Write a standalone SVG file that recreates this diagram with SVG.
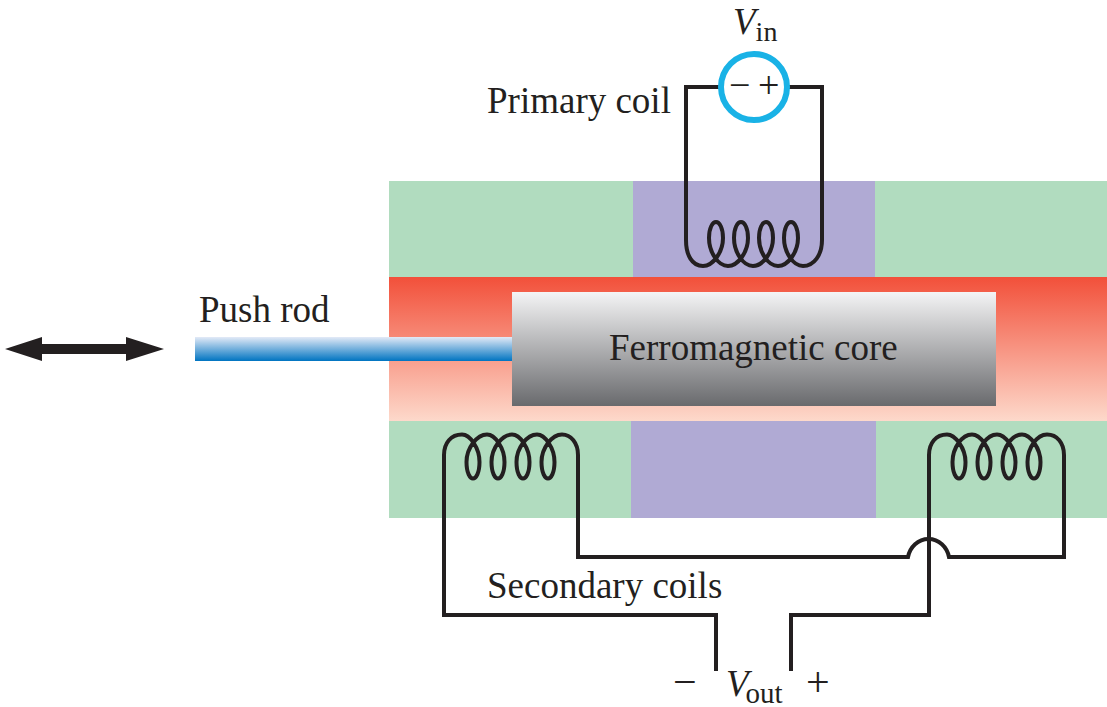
<svg xmlns="http://www.w3.org/2000/svg" width="1107" height="707" viewBox="0 0 1107 707">
<style>
.t{font-family:"Liberation Serif","Times New Roman",serif;font-size:37px;fill:#231f20}
.i{font-style:italic}
.s{font-size:29px}
.b{font-size:42px}
.m{font-size:38px}
.w{fill:none;stroke:#231f20;stroke-width:4;stroke-linejoin:miter}
.g{fill:#b1dcbf}
.p{fill:#b0aad4}
</style>
<defs>
<linearGradient id="red" x1="0" y1="0" x2="0" y2="1"><stop offset="0" stop-color="#f2503a"/><stop offset="1" stop-color="#fdd9cb"/></linearGradient>
<linearGradient id="core" x1="0" y1="0" x2="0" y2="1"><stop offset="0" stop-color="#f4f4f5"/><stop offset="1" stop-color="#696a6d"/></linearGradient>
<linearGradient id="rod" x1="0" y1="0" x2="0" y2="1"><stop offset="0" stop-color="#e3eaf7"/><stop offset="1" stop-color="#0074c1"/></linearGradient>
</defs>
<rect width="1107" height="707" fill="#fff"/>
<g id="housing">
<rect class="g" x="389" y="181" width="244" height="96"/>
<rect class="p" x="633" y="181" width="242" height="96"/>
<rect class="g" x="875" y="181" width="232" height="96"/>
<rect x="389" y="277" width="718" height="144" fill="url(#red)"/>
<rect class="g" x="389" y="421" width="242" height="97"/>
<rect class="p" x="631" y="421" width="245" height="97"/>
<rect class="g" x="876" y="421" width="231" height="97"/>
</g>
<g id="push-rod"><rect x="195" y="337" width="318" height="24" fill="url(#rod)"/><text class="t" x="199" y="322">Push rod</text></g>
<g id="core-node"><rect x="512" y="292" width="484" height="114" fill="url(#core)"/><text class="t" x="609" y="360">Ferromagnetic core</text></g>
<g id="motion-arrow"><polygon points="5,349 42,337 42,344 126,344 126,337 164,349 126,361 126,354 42,354 42,361" fill="#231f20"/></g>
<g id="connectors">
<path class="w" d="M720 87H686V240C686 255 692 266 703 266C713 266 723 252 723 238C723 228 719.500 222 716 222C712.500 222 709 228 709 238C709 252 718 266 728 266C738 266 748 252 748 238C748 228 744.500 222 741 222C737.500 222 734 228 734 238C734 252 743 266 753 266C763 266 773 252 773 238C773 228 769.500 222 766 222C762.500 222 759 228 759 238C759 252 768 266 778 266C788 266 798 252 798 238C798 228 794.500 222 791 222C787.500 222 784 228 784 238C784 252 793 266 803 266C814 266 822 255 822 240V87H788"/>
<path class="w" d="M716 671V615H444V455C444 443 451 434.500 462 434.500C470 434.500 479.500 448 479.500 462C479.500 473 476 478.500 473 478.500C470 478.500 466.500 473 466.500 462C466.500 448 477 434.500 487 434.500C495 434.500 504.500 448 504.500 462C504.500 473 501 478.500 498 478.500C495 478.500 491.500 473 491.500 462C491.500 448 502 434.500 512 434.500C520 434.500 529.500 448 529.500 462C529.500 473 526 478.500 523 478.500C520 478.500 516.500 473 516.500 462C516.500 448 527 434.500 537 434.500C545 434.500 554.500 448 554.500 462C554.500 473 551 478.500 548 478.500C545 478.500 541.500 473 541.500 462C541.500 448 552 434.500 562 434.500C571 434.500 578 443 578 455V557H908C910 547 918 539 928.500 539C939 539 947 547 949 557H1064V455"/>
<path class="w" d="M791 671V615H929V455C929 443 936 434.500 947 434.500C955 434.500 965.500 448 965.500 462C965.500 473 962 478.500 959 478.500C956 478.500 952.500 473 952.500 462C952.500 448 962 434.500 972 434.500C980 434.500 990.500 448 990.500 462C990.500 473 987 478.500 984 478.500C981 478.500 977.500 473 977.500 462C977.500 448 987 434.500 997 434.500C1005 434.500 1015.500 448 1015.500 462C1015.500 473 1012 478.500 1009 478.500C1006 478.500 1002.500 473 1002.500 462C1002.500 448 1012 434.500 1022 434.500C1030 434.500 1040.500 448 1040.500 462C1040.500 473 1037 478.500 1034 478.500C1031 478.500 1027.500 473 1027.500 462C1027.500 448 1037 434.500 1047 434.500C1057 434.500 1064 443 1064 455"/>
</g>
<g id="source">
<circle cx="754" cy="87" r="33" fill="none" stroke="#19b2e6" stroke-width="6"/>
<text class="t m" x="729" y="98">−</text>
<text class="t m" x="758" y="98">+</text>
<text class="t" x="733" y="34"><tspan class="i">V</tspan><tspan style="font-size:28px" dy="7" dx="0">in</tspan></text>
</g>
<g id="labels">
<text class="t" x="487" y="113">Primary coil</text>
<text class="t" x="487" y="598">Secondary coils</text>
<text class="t b" x="673" y="696">−</text>
<text class="t" x="726" y="696"><tspan class="i">V</tspan><tspan class="s" dy="7" dx="-3">out</tspan></text>
<text class="t b" x="806" y="696">+</text>
</g>
</svg>
